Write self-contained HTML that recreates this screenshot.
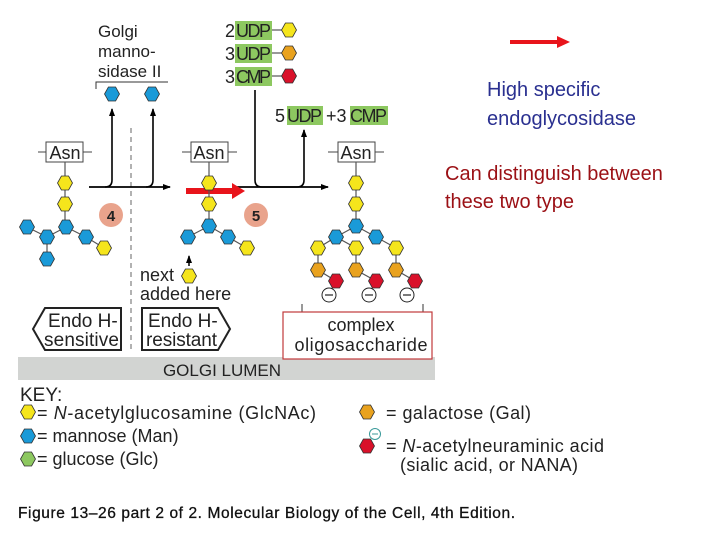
<!DOCTYPE html>
<html><head><meta charset="utf-8"><style>
html,body{margin:0;padding:0;background:#fff;width:720px;height:540px;overflow:hidden}
svg{display:block;font-family:"Liberation Sans",sans-serif}
</style></head><body>
<svg width="720" height="540" viewBox="0 0 720 540" xmlns="http://www.w3.org/2000/svg">
<defs>
<polygon id="h" points="-3.6,-7 3.6,-7 7.5,0 3.6,7 -3.6,7 -7.5,0" stroke="#333" stroke-width="0.8"/>
<marker id="ah" markerWidth="8" markerHeight="8" refX="7" refY="4" orient="auto" markerUnits="userSpaceOnUse"><path d="M0,1 L8,4 L0,7 Z" fill="#000"/></marker>
</defs>
<rect x="18" y="357" width="417" height="23" fill="#d2d4d2"/>
<text x="222" y="376" font-size="17" text-anchor="middle" fill="#222">GOLGI LUMEN</text>
<line x1="131" y1="128" x2="131" y2="352" stroke="#999" stroke-width="1.5" stroke-dasharray="5,4"/>
<text font-size="17" fill="#222"><tspan x="98" y="37">Golgi</tspan><tspan x="98" y="57">manno-</tspan><tspan x="98" y="77">sidase II</tspan></text>
<polyline points="96,89 96,82 168,82" fill="none" stroke="#333" stroke-width="1"/>
<line x1="89" y1="187" x2="170" y2="187" stroke="#000" stroke-width="1.8" marker-end="url(#ah)"/>
<path d="M105,187 Q112,187 112,180 L112,109" fill="none" stroke="#000" stroke-width="1.6" marker-end="url(#ah)"/>
<path d="M146,187 Q153,187 153,180 L153,109" fill="none" stroke="#000" stroke-width="1.6" marker-end="url(#ah)"/>
<line x1="237" y1="187" x2="328" y2="187" stroke="#000" stroke-width="1.8" marker-end="url(#ah)"/>
<path d="M255,90 L255,180 Q255,187 262,187 L297,187 Q304,187 304,180 L304,130" fill="none" stroke="#000" stroke-width="1.6" marker-end="url(#ah)"/>
<line x1="186" y1="191" x2="233" y2="191" stroke="#e8141b" stroke-width="6"/>
<polygon points="232,183 245,191 232,199" fill="#e8141b"/>
<circle cx="111" cy="215" r="12" fill="#e9a38c"/><text x="111" y="221" font-size="15" font-weight="bold" text-anchor="middle" fill="#222">4</text>
<circle cx="256" cy="215" r="12" fill="#e9a38c"/><text x="256" y="221" font-size="15" font-weight="bold" text-anchor="middle" fill="#222">5</text>
<g font-size="18" fill="#222">
<text x="225" y="37">2</text><rect x="235" y="21" width="37" height="19" fill="#8dc860"/><text x="236" y="37" textLength="35">UDP</text>
<text x="225" y="60">3</text><rect x="235" y="44" width="37" height="19" fill="#8dc860"/><text x="236" y="60" textLength="35">UDP</text>
<text x="225" y="83">3</text><rect x="235" y="67" width="37" height="19" fill="#8dc860"/><text x="236" y="83" textLength="35">CMP</text>
<text x="275" y="122">5</text><rect x="287" y="106" width="36" height="19" fill="#8dc860"/><text x="287" y="122" textLength="35">UDP</text>
<text x="326" y="122">+3</text><rect x="350" y="106" width="38" height="19" fill="#8dc860"/><text x="350" y="122" textLength="37">CMP</text>
</g>
<g stroke="#333" stroke-width="1"><line x1="272" y1="30" x2="282" y2="30"/><line x1="272" y1="53" x2="282" y2="53"/><line x1="272" y1="76" x2="282" y2="76"/></g>
<use href="#h" x="289" y="30" fill="#f5e51c"/><use href="#h" x="289" y="53" fill="#e9a21e"/><use href="#h" x="289" y="76" fill="#d9112a"/>
<use href="#h" x="112" y="94" fill="#1a9ad8"/><use href="#h" x="152" y="94" fill="#1a9ad8"/>
<g stroke="#444" stroke-width="1" fill="#fff">
<line x1="38" y1="152" x2="92" y2="152"/><rect x="46" y="142" width="37" height="20"/>
<line x1="182" y1="152" x2="237" y2="152"/><rect x="191" y="142" width="37" height="20"/>
<line x1="328" y1="152" x2="384" y2="152"/><rect x="338" y="142" width="37" height="20"/>
</g>
<g font-size="18" fill="#222" text-anchor="middle"><text x="65" y="159">Asn</text><text x="209" y="159">Asn</text><text x="356" y="159">Asn</text></g>
<g stroke="#555" stroke-width="1.2" fill="none">
<polyline points="65,162 65,226"/><polyline points="27,227 47,237 66,227 86,237 104,248"/><line x1="47" y1="237" x2="47" y2="259"/>
<polyline points="209,162 209,226"/><polyline points="188,237 209,226 228,237 247,248"/>
<polyline points="356,162 356,226"/><polyline points="336,237 356,226 376,237"/>
<polyline points="318,248 336,237 356,248"/><line x1="376" y1="237" x2="396" y2="248"/>
<polyline points="318,248 318,270 336,281"/><polyline points="356,248 356,270 376,281"/><polyline points="396,248 396,270 415,281"/>
</g>
<g>
<use href="#h" x="65" y="183" fill="#f5e51c"/><use href="#h" x="65" y="204" fill="#f5e51c"/>
<use href="#h" x="66" y="227" fill="#1a9ad8"/><use href="#h" x="27" y="227" fill="#1a9ad8"/><use href="#h" x="47" y="237" fill="#1a9ad8"/><use href="#h" x="86" y="237" fill="#1a9ad8"/><use href="#h" x="47" y="259" fill="#1a9ad8"/><use href="#h" x="104" y="248" fill="#f5e51c"/>
<use href="#h" x="209" y="183" fill="#f5e51c"/><use href="#h" x="209" y="204" fill="#f5e51c"/>
<use href="#h" x="209" y="226" fill="#1a9ad8"/><use href="#h" x="188" y="237" fill="#1a9ad8"/><use href="#h" x="228" y="237" fill="#1a9ad8"/><use href="#h" x="247" y="248" fill="#f5e51c"/>
<use href="#h" x="189" y="276" fill="#f5e51c"/>
<use href="#h" x="356" y="183" fill="#f5e51c"/><use href="#h" x="356" y="204" fill="#f5e51c"/>
<use href="#h" x="356" y="226" fill="#1a9ad8"/><use href="#h" x="336" y="237" fill="#1a9ad8"/><use href="#h" x="376" y="237" fill="#1a9ad8"/>
<use href="#h" x="318" y="248" fill="#f5e51c"/><use href="#h" x="356" y="248" fill="#f5e51c"/><use href="#h" x="396" y="248" fill="#f5e51c"/>
<use href="#h" x="318" y="270" fill="#e9a21e"/><use href="#h" x="356" y="270" fill="#e9a21e"/><use href="#h" x="396" y="270" fill="#e9a21e"/>
<use href="#h" x="336" y="281" fill="#d9112a"/><use href="#h" x="376" y="281" fill="#d9112a"/><use href="#h" x="415" y="281" fill="#d9112a"/>
</g>
<g fill="#fff" stroke="#222" stroke-width="1"><circle cx="329" cy="295" r="7"/><circle cx="369" cy="295" r="7"/><circle cx="407" cy="295" r="7"/></g>
<g stroke="#222" stroke-width="1.2"><line x1="325" y1="295" x2="333" y2="295"/><line x1="365" y1="295" x2="373" y2="295"/><line x1="403" y1="295" x2="411" y2="295"/></g>
<line x1="189" y1="266" x2="189" y2="256" stroke="#000" stroke-width="1.5" marker-end="url(#ah)"/>
<text font-size="18" fill="#222"><tspan x="140" y="281">next</tspan><tspan x="140" y="300">added here</tspan></text>
<polygon points="45,308 121,308 121,350 45,350 33,329" fill="#fff" stroke="#222" stroke-width="2"/>
<polygon points="142,308 218,308 230,329 218,350 142,350" fill="#fff" stroke="#222" stroke-width="2"/>
<text font-size="19" fill="#222"><tspan x="48" y="327">Endo H-</tspan><tspan x="44" y="346" textLength="75">sensitive</tspan><tspan x="148" y="327">Endo H-</tspan><tspan x="146" y="346" textLength="71">resistant</tspan></text>
<polyline points="302,304 302,312" stroke="#333" fill="none"/><polyline points="423,304 423,312" stroke="#333" fill="none"/>
<rect x="283" y="312" width="149" height="47" fill="#fff" stroke="#c0393b" stroke-width="1.2"/>
<text font-size="18" fill="#222" text-anchor="middle"><tspan x="361" y="331">complex</tspan><tspan x="361" y="351" textLength="133">oligosaccharide</tspan></text>
<text x="20" y="401" font-size="19" fill="#222">KEY:</text>
<g font-size="18" fill="#222">
<text x="37" y="419" textLength="279">= <tspan font-style="italic">N</tspan>-acetylglucosamine (GlcNAc)</text>
<text x="37" y="442">= mannose (Man)</text>
<text x="37" y="465">= glucose (Glc)</text>
<text x="386" y="419" textLength="145">= galactose (Gal)</text>
<text x="386" y="452" textLength="218">= <tspan font-style="italic">N</tspan>-acetylneuraminic acid</text>
<text x="400" y="471" textLength="178">(sialic acid, or NANA)</text>
</g>
<use href="#h" x="28" y="412" fill="#f5e51c"/><use href="#h" x="28" y="436" fill="#1a9ad8"/><use href="#h" x="28" y="459" fill="#8dc860"/>
<use href="#h" x="367" y="412" fill="#e9a21e"/><use href="#h" x="367" y="446" fill="#d9112a"/>
<circle cx="375" cy="434" r="5.5" fill="#fff" stroke="#3a9a9a"/><line x1="372" y1="434" x2="378" y2="434" stroke="#3a9a9a"/>
<text x="18" y="518" font-size="15.5" fill="#111" stroke="#111" stroke-width="0.3" textLength="497">Figure 13–26 part 2 of 2. Molecular Biology of the Cell, 4th Edition.</text>
<line x1="510" y1="42" x2="558" y2="42" stroke="#e8141b" stroke-width="4"/>
<polygon points="557,36 570,42 557,48" fill="#e8141b"/>
<text font-size="20" fill="#2a3090"><tspan x="487" y="96">High specific</tspan><tspan x="487" y="125">endoglycosidase</tspan></text>
<text font-size="20" fill="#9b1015"><tspan x="445" y="180">Can distinguish between</tspan><tspan x="445" y="208">these two type</tspan></text>
</svg>
</body></html>
